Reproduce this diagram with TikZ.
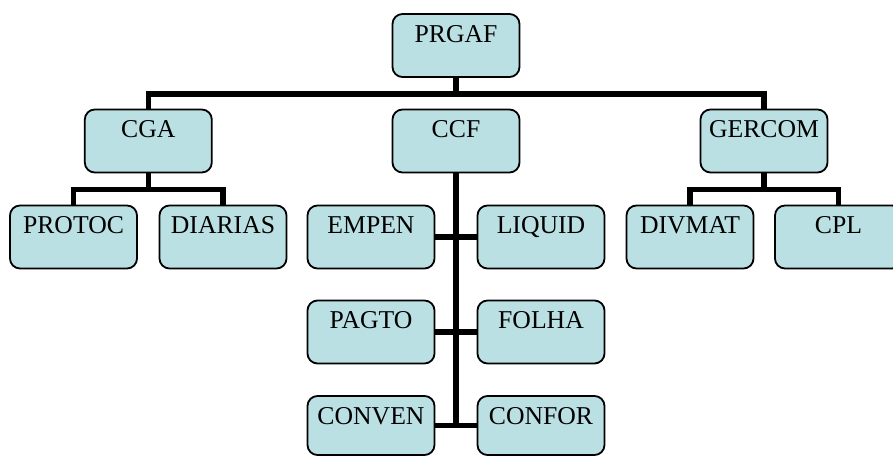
\documentclass[tikz,border=0pt]{standalone}
\usepackage{fontspec}
\setmainfont{Liberation Serif}
\pgfdeclarelayer{background}
\pgfsetlayers{background,main}
\definecolor{boxfill}{HTML}{BBE0E3}
\tikzset{
  unit/.style={draw=black, line width=1.8pt, fill=boxfill, rounded corners=10pt,
    minimum width=127pt, inner xsep=0pt, inner ysep=0pt,
    text height=28pt, text depth=35pt,
    font=\fontsize{25.7}{30}\selectfont},
  lowunit/.style={unit, text depth=31pt},
  link/.style={draw=black, line width=5.6pt}
}
\begin{document}
\begin{tikzpicture}[x=1pt, y=-1pt]
  \useasboundingbox (0,0) rectangle (893,456);

  % top level
  \node[unit] (prgaf) at (456,45.5) {PRGAF};

  % second level
  \node[unit] (cga)    at (148.3,141) {CGA};
  \node[unit] (ccf)    at (456,141)   {CCF};
  \node[unit] (gercom) at (764,141)   {GERCOM};

  % under CGA
  \node[unit] (protoc)  at (73.5,237) {PROTOC};
  \node[unit] (diarias) at (223,237)  {DIARIAS};

  % under GERCOM
  \node[unit] (divmat) at (690,237)   {DIVMAT};
  \node[unit] (cpl)    at (838.5,237) {CPL};

  % under CCF, both sides of the trunk
  \node[unit] (empen)  at (371,237) {EMPEN};
  \node[unit] (liquid) at (541,237) {LIQUID};
  \node[unit] (pagto)  at (371,332) {PAGTO};
  \node[unit] (folha)  at (541,332) {FOLHA};
  \node[lowunit] (conven) at (371,425.5) {CONVEN};
  \node[lowunit] (confor) at (541,425.5) {CONFOR};

  % bus points
  \coordinate (topbus) at (456,94);
  \coordinate (cgabus) at (148.3,189.5);
  \coordinate (gerbus) at (764,189.5);

  \begin{pgfonlayer}{background}
    \draw[link] (prgaf.south) -- (topbus);
    \draw[link] (cga.north) |- (topbus) -| (gercom.north);

    \draw[link] (cga.south) -- (cgabus);
    \draw[link] (protoc.north) |- (cgabus) -| (diarias.north);

    \draw[link] (gercom.south) -- (gerbus);
    \draw[link] (divmat.north) |- (gerbus) -| (cpl.north);

    \draw[link] (ccf.south) -- ([yshift=2.8pt]ccf.south |- conven.east);
    \draw[link] (empen.east) -- (liquid.west);
    \draw[link] (pagto.east) -- (folha.west);
    \draw[link] (conven.east) -- (confor.west);
  \end{pgfonlayer}
\end{tikzpicture}
\end{document}
